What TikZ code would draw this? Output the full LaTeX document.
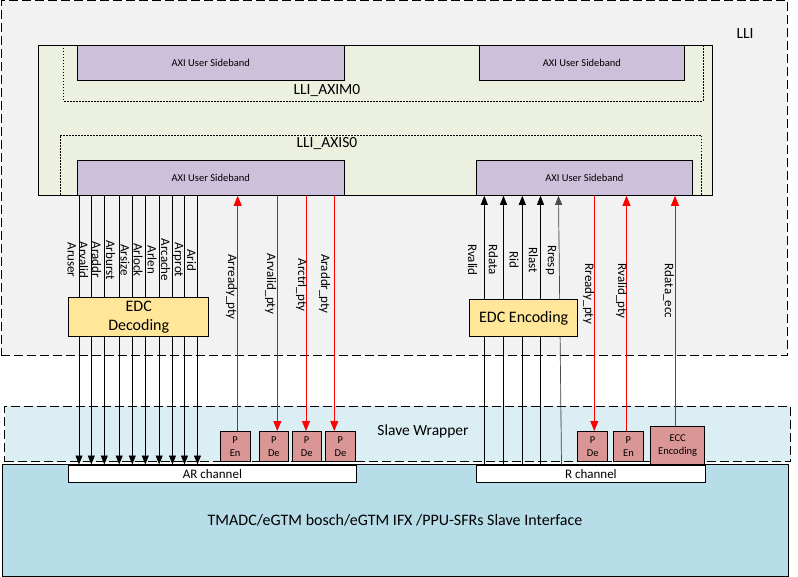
\documentclass[tikz,border=0pt]{standalone}
\usepackage{fontspec}
\setmainfont{Carlito}
\usetikzlibrary{arrows.meta}
\definecolor{lligray}{HTML}{F2F2F2}
\definecolor{lligreen}{HTML}{EBF1DE}
\definecolor{sbpurple}{HTML}{CCC0DA}
\definecolor{wrapblue}{HTML}{DAEEF3}
\definecolor{mainblue}{HTML}{B7DDE8}
\definecolor{edcyellow}{HTML}{FFE699}
\definecolor{ppink}{HTML}{D99694}
\definecolor{sigred}{HTML}{FF0000}
\begin{document}
\begin{tikzpicture}[x=1pt,y=-1pt,
  box/.style={draw,line width=0.8pt,inner sep=0pt,anchor=north west},
  dashbox/.style={draw,line width=0.9pt,dash pattern=on 9pt off 4pt,inner sep=0pt,anchor=north west},
  dotframe/.style={line width=0.6pt,dash pattern=on 1.5pt off 1.5pt},
  fsmall/.style={font=\fontsize{10.5}{13}\selectfont},
  fmid/.style={font=\fontsize{13}{15}\selectfont},
  fbig/.style={font=\fontsize{15.5}{19}\selectfont},
  sbbox/.style={box,fill=sbpurple,minimum height=35pt,fsmall},
  pbox/.style={box,fill=ppink,minimum width=29.5pt,minimum height=30pt,fsmall,align=center},
  siglabel/.style={fmid,rotate=-90,inner sep=0pt,anchor=center},
  sigline/.style={line width=0.7pt,-{Triangle[width=7pt,length=9pt]}},
  redline/.style={line width=0.8pt,draw=sigred,-{Triangle[width=8pt,length=10pt]},sigred}
]
\useasboundingbox (0,0) rectangle (798,577);

% LLI
\node[dashbox,fill=lligray,minimum width=786.5pt,minimum height=355pt] (lli) at (0.5,0.5) {};
\node[fbig] (llilabel) at (745,34) {LLI};
\node[box,fill=lligreen,minimum width=674pt,minimum height=150pt] (lliin) at (38,45) {};
\draw[dotframe] (63,45) |- (703,101) -- (703,45);
\draw[dotframe] (60,195) |- (701,135) -- (701,195);
\node[fbig] (laxim) at (327,91) {LLI\_AXIM0};
\node[fbig] (laxis) at (327,144) {LLI\_AXIS0};

\node[sbbox,minimum width=267.3pt] (sb1) at (76.7,45) {AXI User Sideband};
\node[sbbox,minimum width=205pt] (sb2) at (479,45) {AXI User Sideband};
\node[sbbox,minimum width=267.3pt] (sb3) at (76.7,160) {AXI User Sideband};
\node[sbbox,minimum width=216pt] (sb4) at (476,160) {AXI User Sideband};

% Slave wrapper and interface
\node[dashbox,fill=wrapblue,minimum width=786pt,minimum height=55.3pt] (sw) at (4.3,406) {};
\node[fbig] (swlabel) at (423,431) {Slave Wrapper};
\node[box,fill=mainblue,minimum width=786pt,minimum height=112pt] (main) at (2.3,464) {};
\node[font=\fontsize{16}{19}\selectfont] (mainlabel) at (395,520) {TMADC/eGTM bosch/eGTM IFX /PPU-SFRs Slave Interface};

\node[box,fill=white,minimum width=288pt,minimum height=17.8pt,fmid] (arch) at (68,464.5) {AR channel};
\node[box,fill=white,minimum width=229.6pt,minimum height=17.8pt,fmid] (rch) at (475.7,464.5) {R channel};

% P boxes
\node[pbox] (pen1) at (220,431) {P\\En};
\node[pbox] (pde1) at (258.7,431) {P\\De};
\node[pbox] (pde2) at (291.5,431) {P\\De};
\node[pbox] (pde3) at (325.3,431) {P\\De};
\node[pbox,minimum width=30pt] (pde4) at (577.3,431) {P\\De};
\node[pbox] (pen2) at (613.3,431) {P\\En};
\node[box,fill=ppink,minimum width=54pt,minimum height=37.7pt,fsmall,align=center] (ecc) at (650.3,426.3) {ECC\\Encoding};

% AR signal lines
\foreach \x [count=\i] in {79,91.3,104.3,119.2,132.3,145.3,159.2,172.5,184.5,197.5}
  \coordinate (ar\i) at (\x,0);
\foreach \i in {1,...,10}
  \draw[sigline] (sb3.south -| ar\i) -- (arch.north -| ar\i);
\foreach \t/\x [count=\i] in {Aruser/71.7,Arvalid/83.5,Araddr/96.7,Arburst/110.5,Arsize/125,Arlock/138,Arlen/152,Arcache/165.7,Arprot/178,Arid/191.7}
  \node[siglabel] (arl\i) at (\x,260) {\t};

% AR red lines
\coordinate (rp1) at (237.7,0);
\coordinate (rp2) at (277.3,0);
\coordinate (rp3) at (306,0);
\coordinate (rp4) at (334.3,0);
\draw[redline] (pen1.north -| rp1) -- (sb3.south -| rp1);
\draw[redline] (sb3.south -| rp2) -- (pde1.north -| rp2);
\draw[redline] (sb3.south -| rp3) -- (pde2.north -| rp3);
\draw[redline] (sb3.south -| rp4) -- (pde3.north -| rp4);
\node[siglabel] (lrp1) at (231.5,287) {Arready\_pty};
\node[siglabel] (lrp2) at (270.5,284) {Arvalid\_pty};
\node[siglabel] (lrp3) at (301.5,285) {Arctrl\_pty};
\node[siglabel] (lrp4) at (324.5,284) {Araddr\_pty};

% R signal lines
\foreach \x [count=\i] in {484.3,503.5,522.3,540.5}
  \coordinate (r\i) at (\x,0);
\foreach \i in {1,...,4}
  \draw[sigline] (rch.north -| r\i) -- (sb4.south -| r\i);
\coordinate (r5b) at (561.5,0);
\coordinate (r5t) at (558.5,0);
\draw[sigline,draw=black!70,fill=black] (rch.north -| r5b) -- (sb4.south -| r5t);
\foreach \t/\x [count=\i] in {Rvalid/472.5,Rdata/493.3,Rid/514,Rlast/533.3,Rresp/551}
  \node[siglabel] (rl\i) at (\x,260) {\t};

% R red lines
\coordinate (rr1) at (594.3,0);
\coordinate (rr2) at (626.5,0);
\coordinate (rr3) at (675,0);
\draw[redline] (sb4.south -| rr1) -- (pde4.north -| rr1);
\draw[redline] (pen2.north -| rr2) -- (sb4.south -| rr2);
\draw[redline] (ecc.north -| rr3) -- (sb4.south -| rr3);
\node[siglabel] (lrr1) at (588.5,294) {Rready\_pty};
\node[siglabel] (lrr2) at (621.5,291) {Rvalid\_pty};
\node[siglabel] (lrr3) at (668.5,291) {Rdata\_ecc};

% EDC boxes
\node[box,fill=edcyellow,minimum width=140pt,minimum height=38.4pt,align=center,font=\fontsize{16}{19}\selectfont] (edcdec) at (68.3,297.3) {EDC\\Decoding};
\node[box,fill=edcyellow,minimum width=108pt,minimum height=36.7pt,font=\fontsize{16}{19}\selectfont] (edcenc) at (469.3,299.3) {EDC Encoding};
\end{tikzpicture}
\end{document}
